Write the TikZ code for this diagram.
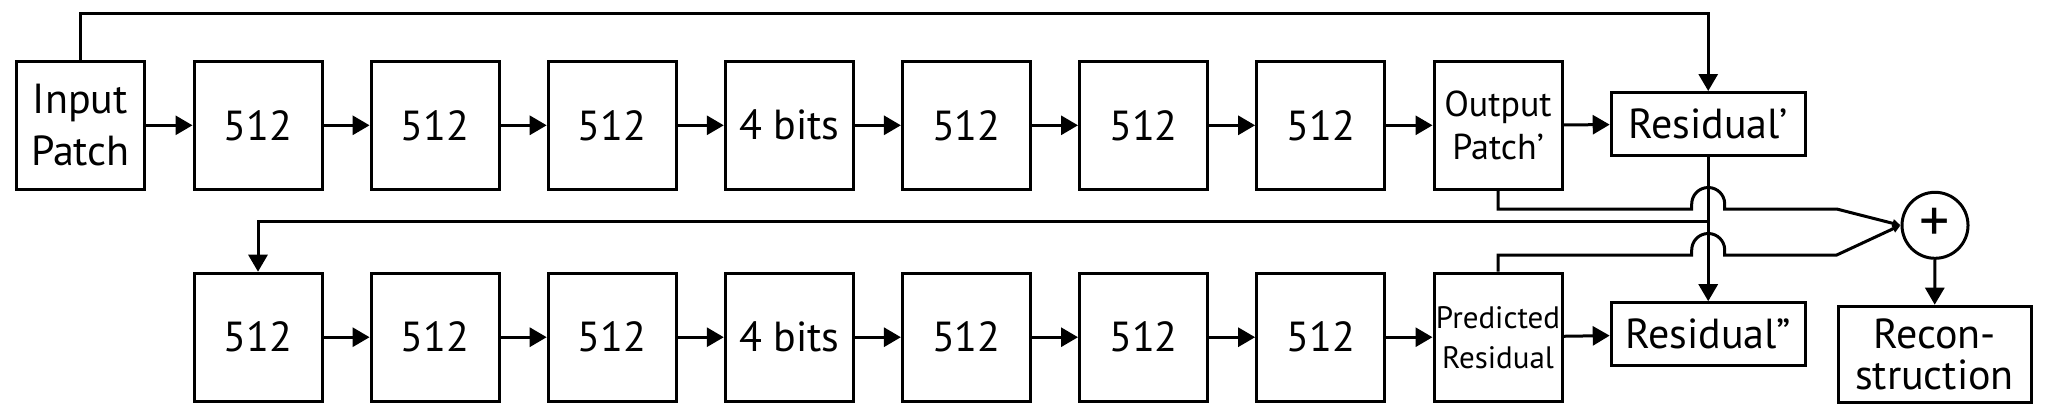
\documentclass[tikz,border=0pt]{standalone}
\usepackage{fontspec}
\setmainfont{PT Sans}
\usetikzlibrary{arrows.meta}

\begin{document}
\begin{tikzpicture}[x=0.5pt,y=-0.5pt,>={Triangle[length=8.5pt,width=9.5pt]},line width=1.5pt,
  blk/.style={draw,line width=1.5pt,minimum width=64pt,minimum height=64pt,inner sep=0pt,align=center,font=\fontsize{21}{26}\selectfont},
  res/.style={blk,minimum width=97pt,minimum height=31.5pt},
  tip/.style={-{Triangle[length=4pt,width=4pt]}}]
\useasboundingbox (0,0) rectangle (2048,419);
% encoder row and decoder row
\node[blk] (inp) at (80.3,125.3) {Input\\Patch};
\foreach \i/\txt in {1/512,2/512,3/512,4/4 bits,5/512,6/512,7/512}{
  \node[blk] (a\i) at ({258+177.1*(\i-1)},125.3) {\txt};
  \node[blk] (b\i) at ({258+177.1*(\i-1)},337.2) {\txt};
}
\node[blk,font=\fontsize{18}{21.5}\selectfont] (a8) at (1498,125.3) {Output\\Patch’};
\node[blk,font=\fontsize{15.5}{20}\selectfont] (b8) at (1498,337.2) {Predicted\\Residual};
\node[res] (res1) at (1708.2,124) {Residual’};
\node[res] (res2) at (1708.2,334.2) {Residual”};
\node[draw,circle,minimum size=33pt,inner sep=0pt,font=\fontsize{30}{30}\selectfont] (plus) at (1935,225.3) {+};
\node[blk,minimum width=96.5pt,minimum height=48pt,font=\fontsize{21}{20.5}\selectfont] (rec) at (1934.5,354.2) {Recon-\\struction};
% chains
\draw[->] (inp) -- (a1);
\foreach \i [evaluate=\i as \j using int(\i+1)] in {1,...,7}{
  \draw[->] (a\i) -- (a\j);
  \draw[->] (b\i) -- (b\j);
}
\draw[->] (a8) -- (res1);
\draw[->] (b8) -- (res2);
% skip line and residual feed
\coordinate (top) at (1708.2,13.3);
\draw[->] (inp.north) |- (top) -- (res1.north);
\draw[->] (res1) -- (res2);
\coordinate (fb) at (1708.2,221);
\draw[->] (fb) -| (b1.north);
% sums with hops
\coordinate (hopA) at (1708.2,209);
\coordinate (hopB) at (1708.2,255);
\coordinate (kinkA) at (1836.7,209);
\coordinate (kinkB) at (1836.7,255);
\draw[tip] (a8.south) |- ([xshift=-8.25pt]hopA) -- ++(0,2.5pt) arc[start angle=180,end angle=0,radius=8.25pt] -- ++(0,-2.5pt) -- (kinkA) -- (plus.west);
\draw[tip] (b8.north) |- ([xshift=-8.25pt]hopB) -- ++(0,2.5pt) arc[start angle=180,end angle=0,radius=8.25pt] -- ++(0,-2.5pt) -- (kinkB) -- (plus.west);
\draw[->] (plus) -- (rec);
\end{tikzpicture}
\end{document}
